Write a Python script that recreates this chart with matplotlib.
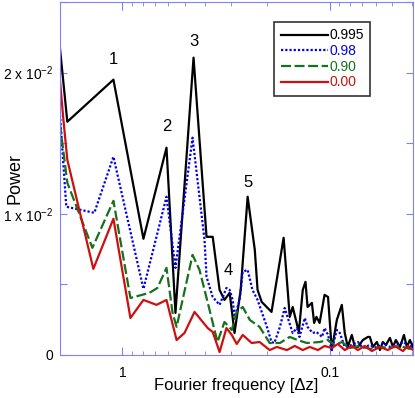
import matplotlib
matplotlib.use("Agg")
import matplotlib.pyplot as plt
from matplotlib.ticker import FixedLocator, FuncFormatter, NullFormatter, LogLocator, MultipleLocator

plt.rcParams['font.family'] = ['Liberation Sans', 'DejaVu Sans']
plt.rcParams['mathtext.fontset'] = 'custom'
plt.rcParams['mathtext.rm'] = 'Liberation Sans'
plt.rcParams['mathtext.default'] = 'regular'

# data (x = Fourier frequency, y = power in 1e-3)
x_995 = [2.0, 1.844, 1.105, 0.792, 0.613, 0.555, 0.454, 0.393, 0.367, 0.340, 0.322, 0.304,
         0.288, 0.269, 0.249, 0.230, 0.223, 0.213, 0.191, 0.167, 0.156, 0.151, 0.141, 0.135,
         0.131, 0.128, 0.122, 0.119, 0.116, 0.112, 0.106, 0.102, 0.0978, 0.0925, 0.0875,
         0.0847, 0.0819, 0.0783, 0.0757, 0.0732, 0.0693, 0.0655, 0.0641, 0.0620, 0.0593,
         0.0573, 0.0555, 0.0536, 0.0513, 0.0496, 0.0480, 0.0459, 0.0439, 0.0425, 0.0411, 0.0397]
p_995 = [21.70, 16.52, 19.50, 8.23, 14.68, 2.98, 21.06, 8.37, 8.37, 4.61, 3.90, 4.40,
         1.56, 4.61, 11.21, 7.45, 4.61, 3.76, 3.05, 8.30, 2.70, 3.40, 1.63, 4.61,
         5.18, 3.40, 3.69, 2.27, 2.70, 2.27, 4.26, 4.11, 0.35, 2.48, 3.55,
         1.56, 0.57, 1.42, 0.57, 0.57, 1.06, 1.28, 1.28, 0.57, 0.92,
         0.35, 0.92, 0.71, 1.21, 0.57, 1.06, 0.57, 1.42, 0.57, 1.06, 0.57]

x_98 = [2.0, 1.865, 1.366, 1.105, 0.792, 0.613, 0.555, 0.459, 0.402, 0.393, 0.367, 0.340,
        0.315, 0.304, 0.294, 0.288, 0.272, 0.263, 0.249, 0.236, 0.223, 0.201, 0.191, 0.185,
        0.174, 0.165, 0.160, 0.151, 0.144, 0.140, 0.132, 0.128, 0.121, 0.116, 0.109, 0.106,
        0.102, 0.0978, 0.0925, 0.0895, 0.0847, 0.0783, 0.0732, 0.0693, 0.0641, 0.0593,
        0.0555, 0.0513, 0.0480, 0.0439, 0.0411, 0.0397]
p_98 = [17.02, 10.50, 10.07, 14.04, 4.68, 11.21, 6.17, 15.39, 8.16, 5.53, 4.11, 3.55,
        4.75, 4.61, 3.90, 2.70, 3.90, 5.89, 6.03, 4.61, 3.90, 1.99, 0.92, 0.85,
        1.99, 3.33, 2.70, 1.56, 1.91, 1.28, 2.62, 1.99, 1.56, 1.63, 1.28, 1.91,
        1.42, 0.35, 1.77, 1.56, 0.57, 0.71, 0.92, 0.50, 0.71, 0.50,
        0.85, 0.57, 0.71, 0.92, 0.50, 0.85]

x_90 = [2.0, 1.844, 1.396, 1.105, 0.915, 0.741, 0.678, 0.613, 0.573, 0.548, 0.459, 0.425,
        0.380, 0.348, 0.322, 0.297, 0.281, 0.263, 0.243, 0.218, 0.195, 0.174, 0.156, 0.143,
        0.129, 0.112, 0.102, 0.0946, 0.0875, 0.0800, 0.0716, 0.0641, 0.0573, 0.0513,
        0.0459, 0.0411, 0.0397]
p_90 = [16.31, 12.20, 7.59, 10.92, 4.04, 4.40, 4.75, 6.17, 2.98, 1.99, 7.09, 6.03,
        3.19, 0.92, 2.34, 1.77, 3.05, 3.40, 2.48, 1.99, 0.85, 0.85, 1.28, 1.06,
        0.85, 0.92, 1.06, 0.71, 0.92, 0.50, 0.64, 0.43, 0.57, 0.50,
        0.64, 0.43, 0.57]

x_00 = [2.0, 1.928, 1.844, 1.381, 1.105, 0.915, 0.792, 0.685, 0.613, 0.548, 0.502, 0.449,
        0.388, 0.367, 0.340, 0.315, 0.297, 0.281, 0.263, 0.238, 0.218, 0.195, 0.180, 0.161,
        0.1476, 0.135, 0.125, 0.114, 0.106, 0.0978, 0.0914, 0.0847, 0.0783, 0.0732, 0.0678,
        0.0627, 0.0573, 0.0525, 0.0486, 0.0444, 0.0420, 0.0397]
p_00 = [19.43, 16.74, 13.83, 6.10, 9.65, 2.62, 3.90, 3.55, 3.90, 1.06, 1.56, 3.05,
        1.91, 1.63, 0.21, 1.91, 1.42, 0.78, 1.42, 0.85, 0.92, 0.35, 0.57, 0.35,
        0.64, 0.35, 0.57, 0.35, 0.64, 0.50, 0.78, 0.35, 0.64, 0.35, 0.64,
        0.28, 0.57, 0.35, 0.64, 0.28, 0.64, 0.35]

peak_names = ["1", "2", "3", "4", "5"]
peak_x = [1.105, 0.613, 0.454, 0.308, 0.249]
peak_y = [20.9, 16.2, 22.2, 6.0, 12.2]

axcol = "#8080ff"

fig = plt.figure(figsize=(4.15, 3.98), dpi=100)
ax = fig.add_axes([60/415, 1-355/398, 353/415, 353/398])

sc = 1e-3
ax.plot(x_995, [v*sc for v in p_995], color="black", lw=1.6, label="0.995")
ax.plot(x_98, [v*sc for v in p_98], color="#0000ee", lw=1.6, ls=(0, (1, 0.9)), label="0.98")
ax.plot(x_90, [v*sc for v in p_90], color="#16701c", lw=1.6, ls=(0, (4.5, 1.6)), label="0.90")
ax.plot(x_00, [v*sc for v in p_00], color="#cc1010", lw=1.6, label="0.00")

for n, px, py in zip(peak_names, peak_x, peak_y):
    ax.text(px, py*sc, n, fontsize=12, ha="center", va="center")

ax.set_xscale("log")
ax.set_xlim(2.0, 0.0397)
ax.set_ylim(0, 0.025)

ax.xaxis.set_major_locator(FixedLocator([1, 0.1]))
ax.xaxis.set_major_formatter(FuncFormatter(lambda v, p: "1" if v > 0.5 else "0.1"))
ax.xaxis.set_minor_locator(LogLocator(base=10, subs=range(2, 10)))
ax.xaxis.set_minor_formatter(NullFormatter())

def ylab(v, p):
    if abs(v) < 1e-9:
        return "0"
    if abs(v - 0.01) < 1e-9:
        return r"1 x 10$^{-2}$"
    if abs(v - 0.02) < 1e-9:
        return r"2 x 10$^{-2}$"
    return ""

ax.yaxis.set_major_locator(MultipleLocator(0.005))
ax.yaxis.set_major_formatter(FuncFormatter(ylab))

ax.tick_params(which="both", direction="in", top=True, right=True, color=axcol, labelcolor="black")
ax.tick_params(axis="y", which="major", length=5, labelsize=10, pad=5)
ax.tick_params(axis="x", which="major", length=6, labelsize=10, pad=8)
ax.tick_params(axis="x", which="minor", length=3)
for s in ax.spines.values():
    s.set_color(axcol)

ax.set_xlabel("Fourier frequency [\u0394z]", fontsize=12)
ax.xaxis.set_label_coords(0.5, -0.065)
ax.set_ylabel("Power", fontsize=13)
ax.yaxis.set_label_coords(-0.127, 0.5)
ax.yaxis.label.set_va("center")

leg = ax.legend(loc="upper right", bbox_to_anchor=(0.878, 0.943), fontsize=10, frameon=True,
                fancybox=False, handlelength=3.4, handletextpad=0.1, borderpad=0.45,
                labelspacing=0.12, borderaxespad=0)
leg.get_frame().set_edgecolor("black")
leg.get_frame().set_linewidth(1.2)
for t, l in zip(leg.get_texts(), leg.get_lines()):
    t.set_color(l.get_color())

fig.savefig("out.png", dpi=100)
